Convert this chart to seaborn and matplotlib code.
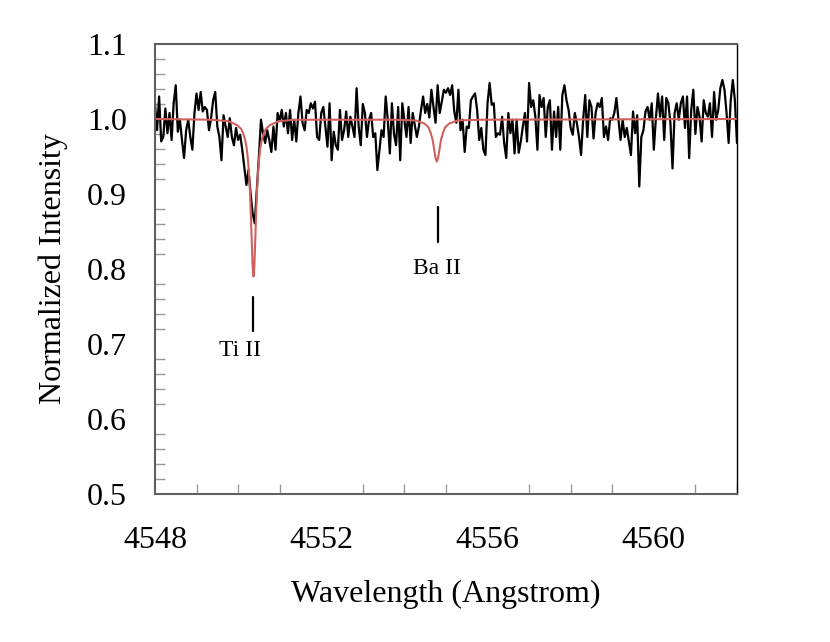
import numpy as np
import pandas as pd
import matplotlib
matplotlib.use("Agg")
import matplotlib.pyplot as plt
from matplotlib.ticker import MultipleLocator
import seaborn as sns

flux_obs = [
    1.021, 0.985, 1.030, 0.970, 0.976, 1.014, 0.981, 1.008, 0.972, 1.021,
    1.045, 0.983, 0.999, 0.972, 0.948, 0.985, 0.999, 0.976, 0.959, 1.008,
    1.034, 1.012, 1.036, 1.010, 1.016, 1.012, 0.985, 1.001, 1.025, 1.036,
    0.990, 0.976, 0.945, 1.005, 0.990, 0.976, 1.001, 0.976, 0.965, 0.988,
    0.972, 0.979, 0.959, 0.936, 0.912, 0.932, 0.901, 0.874, 0.861, 0.905,
    0.950, 0.999, 0.981, 0.968, 0.985, 0.972, 0.956, 0.990, 0.959, 1.008,
    0.997, 1.012, 0.990, 1.008, 0.981, 1.012, 0.972, 0.999, 0.970, 1.008,
    1.030, 0.995, 0.985, 1.012, 1.008, 1.021, 1.014, 1.023, 0.976, 0.972,
    1.008, 1.016, 0.990, 0.963, 1.021, 0.945, 0.983, 0.965, 0.959, 1.012,
    0.972, 0.985, 1.010, 0.976, 1.003, 0.990, 0.976, 1.041, 0.990, 0.965,
    1.020, 1.008, 0.976, 0.999, 1.008, 0.976, 0.981, 0.932, 0.959, 0.985,
    0.976, 1.030, 0.999, 0.954, 1.021, 0.980, 0.965, 1.016, 0.945, 1.021,
    0.999, 0.976, 1.016, 0.968, 1.008, 0.992, 0.976, 0.990, 1.012, 1.030,
    1.008, 1.020, 1.002, 1.039, 1.016, 0.995, 1.045, 1.008, 1.023, 1.039,
    1.035, 1.041, 1.032, 1.045, 1.010, 0.995, 1.039, 0.985, 0.999, 0.956,
    0.990, 0.988, 1.025, 1.030, 1.034, 1.012, 0.972, 0.988, 0.959, 0.952,
    1.021, 1.048, 1.019, 1.021, 0.976, 0.981, 0.979, 1.003, 0.968, 0.948,
    1.008, 0.981, 0.999, 0.954, 0.999, 0.955, 0.970, 0.990, 1.008, 0.970,
    1.048, 1.016, 1.025, 1.003, 0.959, 1.032, 1.016, 1.028, 0.976, 1.016,
    1.025, 0.959, 1.010, 0.976, 1.016, 0.959, 1.032, 1.045, 1.025, 1.012,
    0.988, 0.979, 1.008, 0.994, 0.976, 0.952, 0.999, 1.032, 0.976, 1.025,
    1.016, 0.974, 1.008, 1.021, 1.016, 1.028, 0.976, 0.990, 0.972, 1.001,
    0.999, 1.008, 1.028, 0.999, 0.972, 0.999, 0.976, 0.988, 0.970, 0.952,
    1.010, 0.981, 1.005, 0.910, 0.976, 0.985, 1.010, 1.016, 0.999, 1.021,
    0.959, 1.001, 1.034, 1.003, 1.030, 0.972, 1.028, 1.021, 0.994, 0.934,
    1.008, 1.021, 0.999, 1.021, 1.030, 0.988, 1.030, 0.948, 1.012, 1.039,
    0.980, 1.016, 1.003, 0.970, 1.025, 1.008, 1.003, 1.021, 0.976, 1.036,
    0.999, 1.012, 1.041, 1.052, 1.039, 1.008, 0.968, 1.025, 1.052, 1.025,
    0.968,
]
wl_obs = np.linspace(4548.0, 4562.0, len(flux_obs))

# synthetic (fitted) spectrum, red curve
wl_model = [
    4548.00, 4549.37, 4549.77, 4549.97, 4550.07, 4550.12, 4550.17, 4550.21,
    4550.24, 4550.27, 4550.29, 4550.31, 4550.33, 4550.35, 4550.37, 4550.39,
    4550.41, 4550.43, 4550.45, 4550.47, 4550.50, 4550.53, 4550.57, 4550.62,
    4550.67, 4550.77, 4550.97, 4551.37, 4553.78, 4554.28, 4554.48, 4554.58,
    4554.63, 4554.68, 4554.72, 4554.75, 4554.78, 4554.81, 4554.84, 4554.88,
    4554.93, 4554.98, 4555.08, 4555.28, 4555.78, 4562.00,
]
flux_model = [
    1.000, 0.999, 0.997, 0.992, 0.987, 0.981, 0.972, 0.960,
    0.944, 0.921, 0.898, 0.868, 0.834, 0.803, 0.790, 0.803,
    0.834, 0.868, 0.898, 0.921, 0.944, 0.960, 0.972, 0.981,
    0.987, 0.992, 0.997, 0.999, 0.999, 0.998, 0.994, 0.989,
    0.982, 0.972, 0.958, 0.948, 0.943, 0.948, 0.958, 0.972,
    0.982, 0.989, 0.994, 0.998, 0.999, 1.000,
]

# line identifications
line_names = ["Ti II", "Ba II"]
line_wl = [4550.36, 4554.81]
mark_top = [0.763, 0.883]
mark_bottom = [0.717, 0.836]
label_x = [4550.05, 4554.78]
label_y = [0.692, 0.801]

obs = pd.DataFrame({"wl": wl_obs, "flux": flux_obs})
model = pd.DataFrame({"wl": wl_model, "flux": flux_model})

sns.set_style("white")
plt.rcParams["font.family"] = ["Liberation Serif", "DejaVu Serif"]
plt.rcParams["text.color"] = "black"
plt.rcParams["axes.labelcolor"] = "black"

fig = plt.figure(figsize=(8.3, 6.42), dpi=100)
ax = fig.add_axes([0.1867, 0.2305, 0.7012, 0.701])

sns.lineplot(data=obs, x="wl", y="flux", color="black", linewidth=1.6,
             estimator=None, sort=False, ax=ax)
sns.lineplot(data=model, x="wl", y="flux", color="#d0605c", linewidth=1.5,
             estimator=None, sort=False, ax=ax)

for name, lx, t, b, tx, ty in zip(line_names, line_wl, mark_top, mark_bottom, label_x, label_y):
    ax.plot([lx, lx], [b, t], color="black", linewidth=1.6)
    ax.text(tx, ty, name, ha="center", va="center", fontsize=17)

ax.set_xlim(4548, 4562)
ax.set_ylim(0.5, 1.1)
ax.xaxis.set_major_locator(MultipleLocator(4))
ax.xaxis.set_minor_locator(MultipleLocator(1))
ax.yaxis.set_major_locator(MultipleLocator(0.1))
ax.yaxis.set_minor_locator(MultipleLocator(0.02))
ax.yaxis.set_major_formatter(plt.FormatStrFormatter("%.1f"))

ax.tick_params(axis="x", which="major", direction="inout", length=14, width=1,
               color="#999999", labelcolor="black", labelsize=23, pad=16)
ax.tick_params(axis="y", which="major", direction="out", length=8, width=1,
               color="#999999", labelcolor="black", labelsize=23, pad=12)
ax.tick_params(which="minor", direction="in", length=7, width=1, color="#999999")
ax.tick_params(axis="x", which="minor", bottom=True)
ax.tick_params(axis="y", which="minor", left=True)

for side in ["left", "bottom", "top"]:
    ax.spines[side].set_color("#606060")
    ax.spines[side].set_linewidth(1.5)
ax.spines["right"].set_color("black")
ax.spines["right"].set_linewidth(1.0)

ax.set_xlabel("Wavelength (Angstrom)", fontsize=23, labelpad=18)
ax.set_ylabel("Normalized Intensity", fontsize=23, labelpad=14)

fig.savefig("out.png", dpi=100)
